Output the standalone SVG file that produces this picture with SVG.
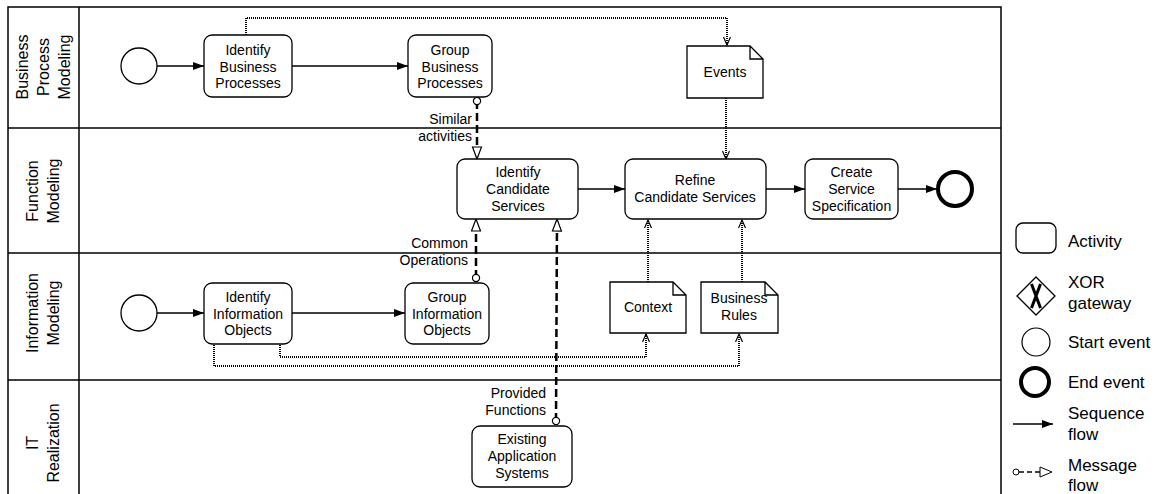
<svg xmlns="http://www.w3.org/2000/svg" width="1156" height="494" viewBox="0 0 1156 494">
<style>
text{font-family:"Liberation Sans",Arial,sans-serif;fill:#000}
.n{font-size:14px;text-anchor:middle}
.lane{font-size:16px;text-anchor:middle}
.lbl{font-size:14px;text-anchor:end}
.leg{font-size:17px}
.act{fill:#fff;stroke:#000;stroke-width:1.3}
.doc{fill:#fff;stroke:#000;stroke-width:1.3}
.ln{stroke:#000;stroke-width:1.5;fill:none}
.seq{stroke:#000;stroke-width:1.3;fill:none;marker-end:url(#seq)}
.assoc{stroke:#000;stroke-width:2;fill:none;stroke-dasharray:1 1;marker-end:url(#vee)}
.msg{stroke:#000;stroke-width:2.5;fill:none;stroke-dasharray:8 4;marker-start:url(#mcirc);marker-end:url(#tri)}
</style>
<defs>
<marker id="seq" markerUnits="userSpaceOnUse" markerWidth="12" markerHeight="10" refX="11" refY="4" orient="auto"><path d="M0,0 L11,4 L0,8 z" fill="#000"/></marker>
<marker id="vee" markerUnits="userSpaceOnUse" markerWidth="10" markerHeight="10" refX="8" refY="4" orient="auto"><path d="M0,0.5 L8,4 L0,7.5" fill="none" stroke="#000" stroke-width="1.2"/></marker>
<marker id="tri" markerUnits="userSpaceOnUse" markerWidth="14" markerHeight="12" refX="13" refY="5.5" orient="auto"><path d="M1,1 L13,5.5 L1,10 z" fill="#fff" stroke="#000" stroke-width="1.2"/></marker>
<marker id="mcirc" markerUnits="userSpaceOnUse" markerWidth="10" markerHeight="10" refX="4.5" refY="4.5" orient="auto"><circle cx="4.5" cy="4.5" r="3.6" fill="#fff" stroke="#000" stroke-width="1.2"/></marker>
</defs>
<rect width="1156" height="494" fill="#fff"/>
<g id="pool">
<path class="ln" d="M8,500 L8,7 L1001,7 L1001,500"/>
<line class="ln" x1="79" y1="7" x2="79" y2="500"/>
<line class="ln" x1="8" y1="128" x2="1001" y2="128"/>
<line class="ln" x1="8" y1="253" x2="1001" y2="253"/>
<line class="ln" x1="8" y1="380" x2="1001" y2="380"/>
</g>
<g id="lane-labels">
<text class="lane" transform="translate(43,67) rotate(-90)"><tspan x="0" y="-15">Business</tspan><tspan x="0" y="6">Process</tspan><tspan x="0" y="27">Modeling</tspan></text>
<text class="lane" transform="translate(43,191) rotate(-90)"><tspan x="0" y="-5">Function</tspan><tspan x="0" y="16">Modeling</tspan></text>
<text class="lane" transform="translate(43,313) rotate(-90)"><tspan x="0" y="-5">Information</tspan><tspan x="0" y="16">Modeling</tspan></text>
<text class="lane" transform="translate(43,443) rotate(-90)"><tspan x="0" y="-5">IT</tspan><tspan x="0" y="16">Realization</tspan></text>
</g>
<g id="connectors">
<line class="seq" x1="157" y1="66" x2="204" y2="66"/>
<line class="seq" x1="292" y1="66" x2="408" y2="66"/>
<line class="seq" x1="157" y1="313" x2="204" y2="313"/>
<line class="seq" x1="292" y1="313" x2="405" y2="313"/>
<line class="seq" x1="578" y1="189" x2="625" y2="189"/>
<line class="seq" x1="766" y1="189" x2="805" y2="189"/>
<line class="seq" x1="898" y1="189" x2="937" y2="189"/>
<path class="assoc" d="M246,35 L246,18 L727,18 L727,45"/>
<path class="assoc" d="M726,98 L726,159"/>
<path class="assoc" d="M648,282 L648,220"/>
<path class="assoc" d="M742,282 L742,220"/>
<path class="assoc" d="M280,345 L280,357 L646,357 L646,334"/>
<path class="assoc" d="M214,345 L214,366 L739,366 L739,334"/>
<path class="msg" d="M477,101 L477,159"/>
<path class="msg" d="M476,278 L476,219"/>
<path class="msg" d="M556,421 L557,219"/>
<text class="lbl"><tspan x="472" y="124">Similar</tspan><tspan x="472" y="141">activities</tspan></text>
<text class="lbl"><tspan x="468" y="248">Common</tspan><tspan x="468" y="265">Operations</tspan></text>
<text class="lbl"><tspan x="546" y="398">Provided</tspan><tspan x="546" y="415">Functions</tspan></text>
</g>
<g id="start-bpm"><circle cx="139" cy="66" r="18" fill="#fff" stroke="#000" stroke-width="1.3"/></g>
<g id="identify-bp"><rect class="act" x="204" y="35" width="88" height="62" rx="8"/><text class="n"><tspan x="248" y="55">Identify</tspan><tspan x="248" y="71.5">Business</tspan><tspan x="248" y="88">Processes</tspan></text></g>
<g id="group-bp"><rect class="act" x="408" y="35" width="84" height="62" rx="8"/><text class="n"><tspan x="450" y="55">Group</tspan><tspan x="450" y="71.5">Business</tspan><tspan x="450" y="88">Processes</tspan></text></g>
<g id="events"><path class="doc" d="M687,46 L750,46 L763,59 L763,98 L687,98 z M750,46 L750,59 L763,59"/><text class="n" x="725" y="76.5">Events</text></g>
<g id="identify-cs"><rect class="act" x="457" y="159" width="121" height="60" rx="8"/><text class="n"><tspan x="518" y="176.5">Identify</tspan><tspan x="518" y="194">Candidate</tspan><tspan x="518" y="211">Services</tspan></text></g>
<g id="refine-cs"><rect class="act" x="625" y="159" width="141" height="60" rx="8"/><text class="n"><tspan x="695" y="185">Refine</tspan><tspan x="695" y="202">Candidate Services</tspan></text></g>
<g id="create-ss"><rect class="act" x="805" y="159" width="93" height="60" rx="8"/><text class="n"><tspan x="851.5" y="176.5">Create</tspan><tspan x="851.5" y="194">Service</tspan><tspan x="851.5" y="211">Specification</tspan></text></g>
<g id="end-fm"><circle cx="955" cy="189" r="17" fill="#fff" stroke="#000" stroke-width="4"/></g>
<g id="start-im"><circle cx="139" cy="313" r="18" fill="#fff" stroke="#000" stroke-width="1.3"/></g>
<g id="identify-io"><rect class="act" x="204" y="283" width="88" height="61" rx="8"/><text class="n"><tspan x="248" y="302">Identify</tspan><tspan x="248" y="318.5">Information</tspan><tspan x="248" y="335">Objects</tspan></text></g>
<g id="group-io"><rect class="act" x="405" y="283" width="84" height="61" rx="8"/><text class="n"><tspan x="447" y="302">Group</tspan><tspan x="447" y="318.5">Information</tspan><tspan x="447" y="335">Objects</tspan></text></g>
<g id="context"><path class="doc" d="M610,282 L673,282 L686,295 L686,333 L610,333 z M673,282 L673,295 L686,295"/><text class="n" x="648" y="312">Context</text></g>
<g id="business-rules"><path class="doc" d="M701,282 L765,282 L778,295 L778,333 L701,333 z M765,282 L765,295 L778,295"/><text class="n"><tspan x="739" y="303">Business</tspan><tspan x="739" y="320">Rules</tspan></text></g>
<g id="existing-as"><rect class="act" x="472" y="426" width="100" height="61" rx="8"/><text class="n"><tspan x="522" y="444">Existing</tspan><tspan x="522" y="461">Application</tspan><tspan x="522" y="477.5">Systems</tspan></text></g>
<g id="legend">
<rect class="act" x="1016" y="223" width="40" height="30" rx="7"/>
<text class="leg" x="1068" y="247">Activity</text>
<path d="M1036,277 L1055,296 L1036,315 L1017,296 z" fill="#fff" stroke="#000" stroke-width="1.3"/>
<path d="M1031.5,284 L1040.5,308 M1040.5,284 L1031.5,308" stroke="#000" stroke-width="3" fill="none"/>
<text class="leg"><tspan x="1068" y="288">XOR</tspan><tspan x="1068" y="309">gateway</tspan></text>
<circle cx="1036" cy="342" r="14" fill="#fff" stroke="#000" stroke-width="1.2"/>
<text class="leg" x="1068" y="348">Start event</text>
<circle cx="1035" cy="382" r="14" fill="#fff" stroke="#000" stroke-width="4"/>
<text class="leg" x="1068" y="388">End event</text>
<line class="seq" x1="1013" y1="424" x2="1053" y2="424"/>
<text class="leg"><tspan x="1068" y="419">Sequence</tspan><tspan x="1068" y="440">flow</tspan></text>
<path d="M1019,472 L1040,472" stroke="#000" stroke-width="1.4" stroke-dasharray="5 3" fill="none"/>
<circle cx="1016" cy="472" r="3" fill="#fff" stroke="#000" stroke-width="1"/>
<path d="M1040,467 L1052,472 L1040,477 z" fill="#fff" stroke="#000" stroke-width="1"/>
<text class="leg"><tspan x="1068" y="471">Message</tspan><tspan x="1068" y="491">flow</tspan></text>
</g>
</svg>
